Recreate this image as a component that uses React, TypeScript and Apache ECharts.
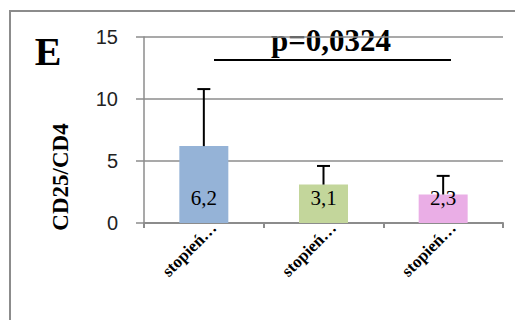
import React, { useEffect, useRef } from "react";
import * as echarts from "echarts";

// Grades of the disease and the mean CD25/CD4 ratio with its standard deviation
const categories = ["stopień…", "stopień…", "stopień…"];
const means = [6.2, 3.1, 2.3];
const sds = [4.6, 1.5, 1.5];
const barColors = ["#95B3D7", "#C3D69B", "#EAAEE6"];
const yTicks = { min: 0, max: 15, interval: 5 };
const pValueText = "p=0,0324";
const panelLetter = "E";
const yTitle = "CD25/CD4";

const fmt = (v: number) => v.toFixed(1).replace(".", ",");

export default function App() {
  const ref = useRef<HTMLDivElement>(null);

  useEffect(() => {
    if (!ref.current) return;
    const chart = echarts.init(ref.current, null, { renderer: "svg" });

    const gridColor = "#8C8C8C";
    const serif = "'Liberation Serif', 'Times New Roman', serif";

    chart.setOption({
      animation: false,
      grid: { left: 144, top: 37, right: 12, bottom: 97 },
      xAxis: {
        type: "category",
        data: categories,
        axisLine: { lineStyle: { color: gridColor, width: 2 } },
        axisTick: { show: true, length: 5, lineStyle: { color: gridColor, width: 2 } },
        axisLabel: {
          rotate: 45,
          margin: 12,
          padding: [0, -14, 0, 0],
          color: "#000",
          fontFamily: serif,
          fontWeight: "bold",
          fontSize: 17,
          interval: 0,
        },
      },
      yAxis: {
        type: "value",
        min: yTicks.min,
        max: yTicks.max,
        interval: yTicks.interval,
        axisLine: { show: true, lineStyle: { color: gridColor, width: 1.5 } },
        axisTick: { show: true, length: 8, lineStyle: { color: gridColor, width: 1.5 } },
        splitLine: { lineStyle: { color: gridColor, width: 1.5 } },
        axisLabel: {
          margin: 26,
          color: "#222",
          fontFamily: "'Liberation Sans', Arial, sans-serif",
          fontSize: 20,
        },
      },
      series: [
        {
          type: "bar",
          barWidth: 49,
          data: means.map((v, i) => ({ value: v, itemStyle: { color: barColors[i] } })),
          label: {
            show: true,
            position: "insideBottom",
            distance: 15,
            color: "#000",
            fontFamily: serif,
            fontSize: 21,
            formatter: (p: any) => fmt(p.value),
          },
          z: 2,
        },
        {
          type: "custom",
          z: 3,
          data: means.map((v, i) => [i, v, v + sds[i]]),
          renderItem: (params: any, api: any) => {
            const idx = api.value(0);
            const base = api.coord([idx, api.value(1)]);
            const top = api.coord([idx, api.value(2)]);
            const half = 6.5;
            return {
              type: "group",
              children: [
                {
                  type: "line",
                  shape: { x1: base[0], y1: base[1], x2: top[0], y2: top[1] },
                  style: { stroke: "#000", lineWidth: 2 },
                },
                {
                  type: "line",
                  shape: { x1: top[0] - half, y1: top[1], x2: top[0] + half, y2: top[1] },
                  style: { stroke: "#000", lineWidth: 2 },
                },
              ],
            };
          },
        },
      ],
      graphic: [
        {
          type: "rect",
          shape: { x: 10, y: 11, width: 530, height: 340 },
          style: { fill: "none", stroke: gridColor, lineWidth: 2 },
          silent: true,
        },
        {
          type: "text",
          x: 48,
          y: 51,
          style: {
            text: panelLetter,
            font: `bold 40px ${serif}`,
            fill: "#000",
            align: "center",
            verticalAlign: "middle",
          },
        },
        {
          type: "text",
          x: 60,
          y: 177,
          rotation: Math.PI / 2,
          style: {
            text: yTitle,
            font: `bold 23px ${serif}`,
            fill: "#000",
            align: "center",
            verticalAlign: "middle",
          },
        },
        {
          type: "line",
          shape: { x1: 214, y1: 60, x2: 451, y2: 60 },
          style: { stroke: "#000", lineWidth: 2 },
        },
        {
          type: "text",
          x: 331,
          y: 40,
          style: {
            text: pValueText,
            font: `bold 31px ${serif}`,
            fill: "#000",
            align: "center",
            verticalAlign: "middle",
          },
        },
      ],
    });

    return () => chart.dispose();
  }, []);

  return (
    <div
      ref={ref}
      style={{ position: "fixed", left: 0, top: 0, width: 515, height: 320, background: "#fff" }}
    />
  );
}
